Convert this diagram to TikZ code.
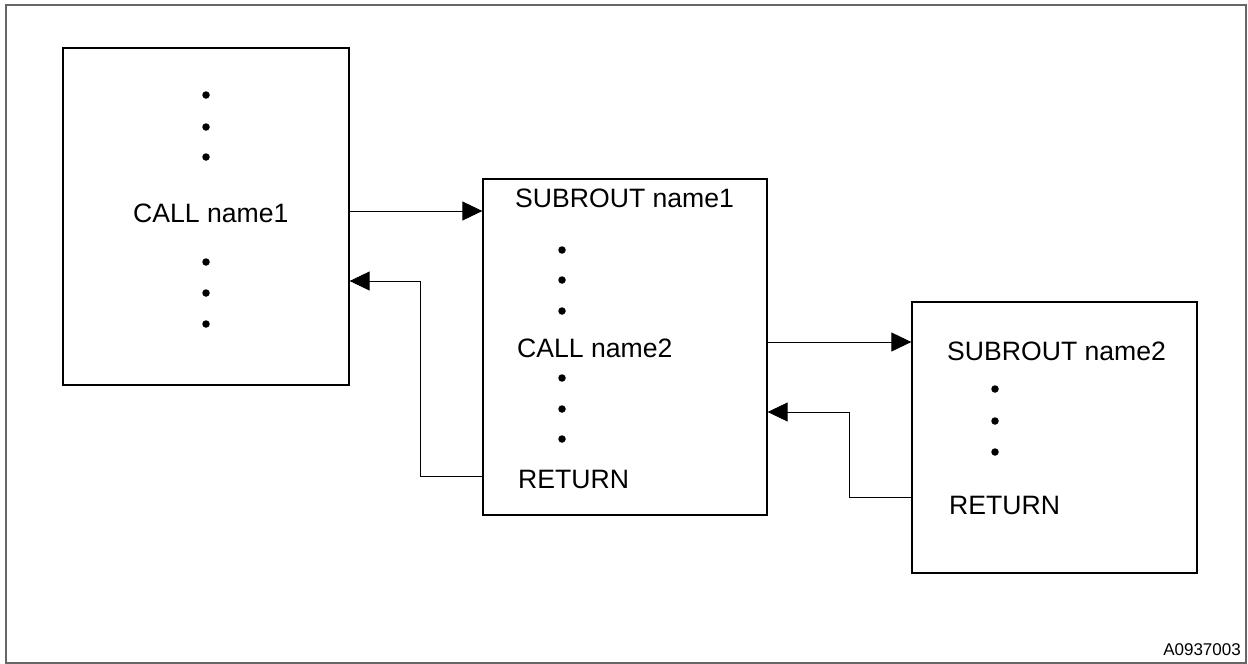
\documentclass[tikz,border=0pt]{standalone}
\usepackage{fontspec}
\setmainfont{Liberation Sans}
\usetikzlibrary{arrows.meta}
\begin{document}
\begin{tikzpicture}[x=1pt,y=-1pt,
  box/.style={draw=black,line width=1.3pt,inner sep=0pt,rectangle},
  lbl/.style={anchor=base west,inner sep=0pt,font=\fontsize{26.6}{30}\selectfont},
  dotmark/.style={circle,fill=black,inner sep=0pt,minimum size=7.5pt},
  conn/.style={draw=black,line width=0.9pt},
  arr/.style={conn,-{Triangle[length=20pt,width=19pt]}},
  frame/.style={draw=black!60,line width=1.4pt}]
\useasboundingbox (0,0) rectangle (1248,664);
\draw[frame] (6,5) rectangle (1246,663);
% boxes
\node[box,minimum width=286pt,minimum height=337pt] (b1) at (206,216.5) {};
\node[box,minimum width=284pt,minimum height=336pt] (b2) at (625,347) {};
\node[box,minimum width=285pt,minimum height=271pt] (b3) at (1054.5,437.5) {};
% box 1 contents
\foreach \yy [count=\i] in {95,127,157,262,293,324}
  \node[dotmark] (d1\i) at (206,\yy) {};
\node[lbl] (call1) at (133,222) {CALL name1};
% box 2 contents
\node[lbl] (sub1) at (515,207) {SUBROUT name1};
\foreach \yy [count=\i] in {250,280,311,378,409,439}
  \node[dotmark] (d2\i) at (562,\yy) {};
\node[lbl] (call2) at (517,357) {CALL name2};
\node[lbl] (ret1) at (518,488) {RETURN};
% box 3 contents
\node[lbl] (sub2) at (947,360) {SUBROUT name2};
\foreach \yy [count=\i] in {389,421,452}
  \node[dotmark] (d3\i) at (995,\yy) {};
\node[lbl] (ret2) at (949,514) {RETURN};
% id
\node[anchor=base east,inner sep=0pt,font=\fontsize{17}{20}\selectfont] (id) at (1241,655) {A0937003};
% level coordinates
\coordinate (ya) at (0,211);
\coordinate (yb) at (0,281);
\coordinate (yc) at (0,476);
\coordinate (yd) at (0,342);
\coordinate (ye) at (0,412);
\coordinate (yf) at (0,497);
\coordinate (k1) at (420,476);
\coordinate (k2) at (420,281);
\coordinate (k3) at (849,497);
\coordinate (k4) at (849,412);
% connectors
\draw[arr] (b1.east |- ya) -- (b2.west |- ya);
\draw[arr] (b2.west |- yc) -- (k1) -- (k2) -- (b1.east |- yb);
\draw[arr] (b2.east |- yd) -- (b3.west |- yd);
\draw[arr] (b3.west |- yf) -- (k3) -- (k4) -- (b2.east |- ye);
\end{tikzpicture}
\end{document}
